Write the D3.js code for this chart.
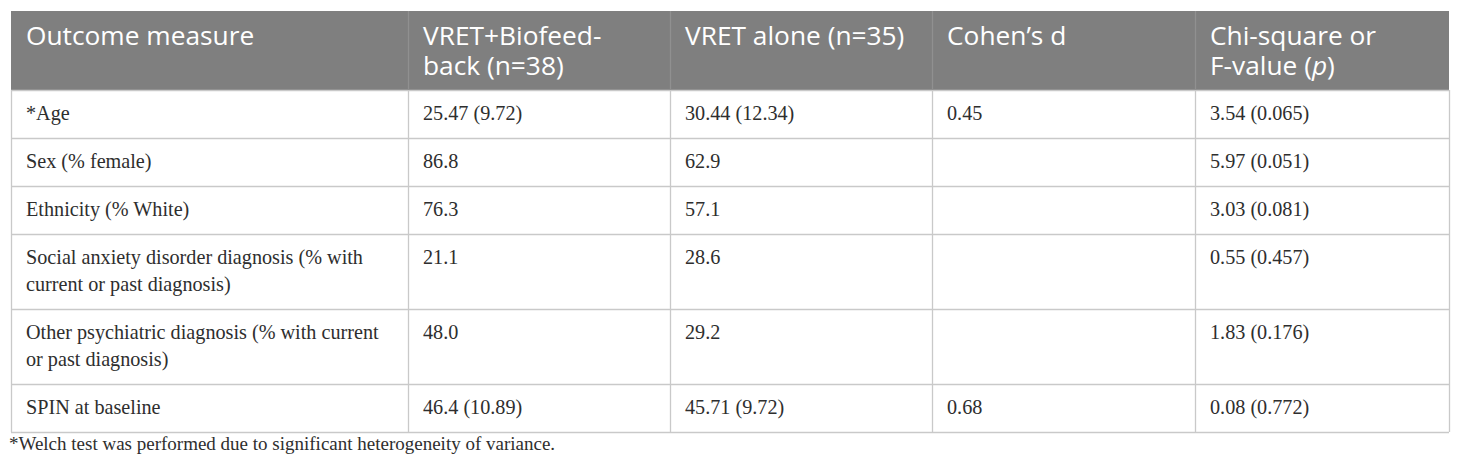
<!DOCTYPE html>
<html>
  <head>
    <meta charset="utf-8">
    <title>Baseline characteristics table</title>
    <script src="https://d3js.org/d3.v7.min.js"></script>
    <style>
      body { margin: 0; background: #fff; }
    </style>
  </head>
  <body>
    <div id="chart"></div>
    <script>
      // Table content
      const headers = [
        ["Outcome measure"],
        ["VRET+Biofeed-", "back (n=38)"],
        ["VRET alone (n=35)"],
        ["Cohen’s d"],
        ["Chi-square or", "F-value (p)"]
      ];
      const measures = [
        ["*Age"],
        ["Sex (% female)"],
        ["Ethnicity (% White)"],
        ["Social anxiety disorder diagnosis (% with", "current or past diagnosis)"],
        ["Other psychiatric diagnosis (% with current", "or past diagnosis)"],
        ["SPIN at baseline"]
      ];
      const biofeedback = ["25.47 (9.72)", "86.8", "76.3", "21.1", "48.0", "46.4 (10.89)"];
      const vretAlone = ["30.44 (12.34)", "62.9", "57.1", "28.6", "29.2", "45.71 (9.72)"];
      const cohensD = ["0.45", "", "", "", "", "0.68"];
      const testValue = ["3.54 (0.065)", "5.97 (0.051)", "3.03 (0.081)", "0.55 (0.457)", "1.83 (0.176)", "0.08 (0.772)"];
      const footnote = "*Welch test was performed due to significant heterogeneity of variance.";

      // Layout
      const width = 1460, height = 473;
      const tLeft = 11, tRight = 1449, tTop = 11;
      const colShares = [397, 262, 262, 263, 254];
      const padX = 15;
      const headLine = 30, headPad = 19, headBase = 34;
      const bodyLine = 27, bodyPad = 21, bodyBase = 30;
      const gridColor = "#c9c9c9";

      const colEdges = [0, ...d3.cumsum(colShares)];
      const x = d3.scaleLinear()
        .domain([0, d3.sum(colShares)])
        .range([tLeft, tRight]);

      const rows = measures.map((m, i) => [m, [biofeedback[i]], [vretAlone[i]], [cohensD[i]], [testValue[i]]]);
      const headH = headPad + headLine * d3.max(headers, h => h.length);
      const rowH = rows.map(r => bodyPad + bodyLine * d3.max(r, c => c.length));
      const rowTops = [tTop + headH, ...Array.from(d3.cumsum(rowH), v => tTop + headH + v)];
      const tBottom = rowTops[rowTops.length - 1];

      const svg = d3.select("#chart")
        .append("svg")
        .attr("width", width)
        .attr("height", height);

      // Header band
      svg.append("rect")
        .attr("x", tLeft)
        .attr("y", tTop)
        .attr("width", tRight - tLeft)
        .attr("height", headH)
        .attr("fill", "#7f7f7f");

      // Horizontal rules
      svg.append("g")
        .selectAll("line")
        .data(rowTops)
        .join("line")
        .attr("x1", tLeft)
        .attr("x2", tRight)
        .attr("y1", d => d + 0.5)
        .attr("y2", d => d + 0.5)
        .attr("stroke", gridColor)
        .attr("stroke-width", 1.3);

      // Vertical rules: body part and header part
      svg.append("g")
        .selectAll("line")
        .data(colEdges)
        .join("line")
        .attr("x1", d => x(d) + 0.5)
        .attr("x2", d => x(d) + 0.5)
        .attr("y1", tTop + headH)
        .attr("y2", tBottom)
        .attr("stroke", gridColor)
        .attr("stroke-width", 1.3);
      svg.append("g")
        .selectAll("line")
        .data(colEdges.slice(1, -1))
        .join("line")
        .attr("x1", d => x(d) + 0.5)
        .attr("x2", d => x(d) + 0.5)
        .attr("y1", tTop)
        .attr("y2", tTop + headH)
        .attr("stroke", "#909090")
        .attr("stroke-width", 1.3);

      // Header text, "(p)" gets an italic p
      const head = svg.append("g")
        .attr("font-family", "'Open Sans', sans-serif")
        .attr("font-size", 26.3)
        .attr("fill", "#ffffff");
      headers.forEach((lines, c) => {
        const cx = x(colEdges[c]) + padX;
        lines.forEach((line, k) => {
          const t = head.append("text")
            .attr("x", cx)
            .attr("y", tTop + headBase + k * headLine);
          const m = line.match(/^(.*)\((p)\)$/);
          if (m) {
            t.append("tspan").text(m[1] + "(");
            t.append("tspan").attr("font-style", "italic").text("p");
            t.append("tspan").text(")");
          } else {
            t.text(line);
          }
        });
      });

      // Body text
      const body = svg.append("g")
        .attr("font-family", "'Liberation Serif', 'Times New Roman', serif")
        .attr("font-size", 20.2)
        .attr("fill", "#2e2e2e");
      rows.forEach((r, i) => {
        r.forEach((cell, c) => {
          if (!cell[0]) return;
          body.append("text")
            .attr("y", rowTops[i] + bodyBase)
            .selectAll("tspan")
            .data(cell)
            .join("tspan")
            .attr("x", x(colEdges[c]) + padX)
            .attr("dy", (d, k) => k === 0 ? 0 : bodyLine)
            .text(d => d);
        });
      });

      // Footnote
      svg.append("text")
        .attr("x", 9)
        .attr("y", tBottom + 18)
        .attr("font-family", "'Liberation Serif', 'Times New Roman', serif")
        .attr("font-size", 19)
        .attr("fill", "#2e2e2e")
        .text(footnote);
    </script>
  </body>
</html>
